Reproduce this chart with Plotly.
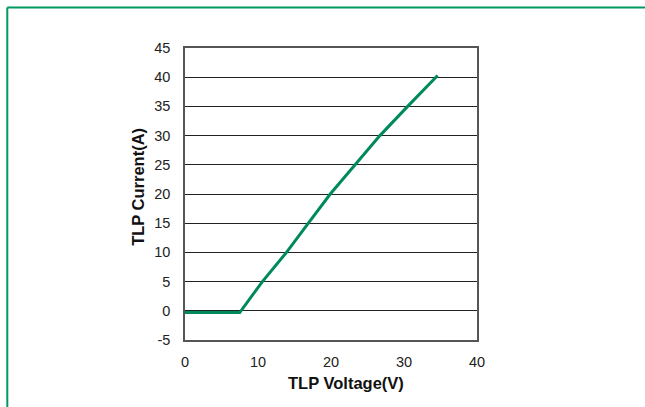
import plotly.graph_objects as go

voltage = [0, 7.5, 10.6, 13.9, 16.9, 19.9, 23.3, 26.7, 30.5, 34.6]
current = [-0.3, -0.3, 5, 10, 15, 20, 25, 30, 35, 40.3]

x_ticks = [0, 10, 20, 30, 40]
y_ticks = [-5, 0, 5, 10, 15, 20, 25, 30, 35, 40, 45]
y_tick_text = ["-5", "0", "5", "10", "15", "20", "25", "30", "35", "40", "45"]

x_title = "TLP Voltage(V)"
y_title = "TLP Current(A)"

W, H = 645, 407
L, R, T, B = 184.5, 477, 48, 340.5

def px(x):
    return (x - L) / (R - L)

def py(y):
    return (B - y) / (B - T)

fig = go.Figure()
fig.add_trace(go.Scatter(x=voltage, y=current, mode="lines",
                         line=dict(color="#00895a", width=3), showlegend=False))

fig.update_layout(
    width=W, height=H,
    margin=dict(l=L, r=W - R, t=T, b=H - B, pad=0),
    paper_bgcolor="white", plot_bgcolor="white",
    font=dict(family="Liberation Sans, Arial, sans-serif", size=14.5, color="#222"),
    xaxis=dict(range=[0, 40], tickvals=x_ticks, showgrid=False, zeroline=False,
               showline=True, linecolor="#555", linewidth=1.5, mirror=True,
               ticks="", ticklabelstandoff=8),
    yaxis=dict(range=[-5, 45], tickvals=y_ticks, ticktext=y_tick_text,
               showgrid=True, gridcolor="#222",
               gridwidth=1, zeroline=False,
               showline=True, linecolor="#555", linewidth=1.5, mirror=True,
               ticks="", ticklabelstandoff=10),
    annotations=[
        dict(text="<b>" + x_title + "</b>", xref="paper", yref="paper",
             x=px(345.5), y=py(384), xanchor="center", yanchor="middle",
             showarrow=False, font=dict(size=16.5, color="#111")),
        dict(text="<b>" + y_title + "</b>", xref="paper", yref="paper",
             x=px(138), y=py(187.5), xanchor="center", yanchor="middle",
             textangle=-90, showarrow=False, font=dict(size=16.5, color="#111")),
    ],
    shapes=[
        dict(type="line", xref="paper", yref="paper",
             x0=px(6.5), x1=px(700), y0=py(7.5), y1=py(7.5),
             line=dict(color="#00995e", width=2)),
        dict(type="line", xref="paper", yref="paper",
             x0=px(6.5), x1=px(6.5), y0=py(7.5), y1=py(450),
             line=dict(color="#00995e", width=2)),
    ],
)

fig.write_html("out.html", config={"displayModeBar": False},
               post_script="document.body.style.margin='0';document.body.style.overflow='hidden';")
